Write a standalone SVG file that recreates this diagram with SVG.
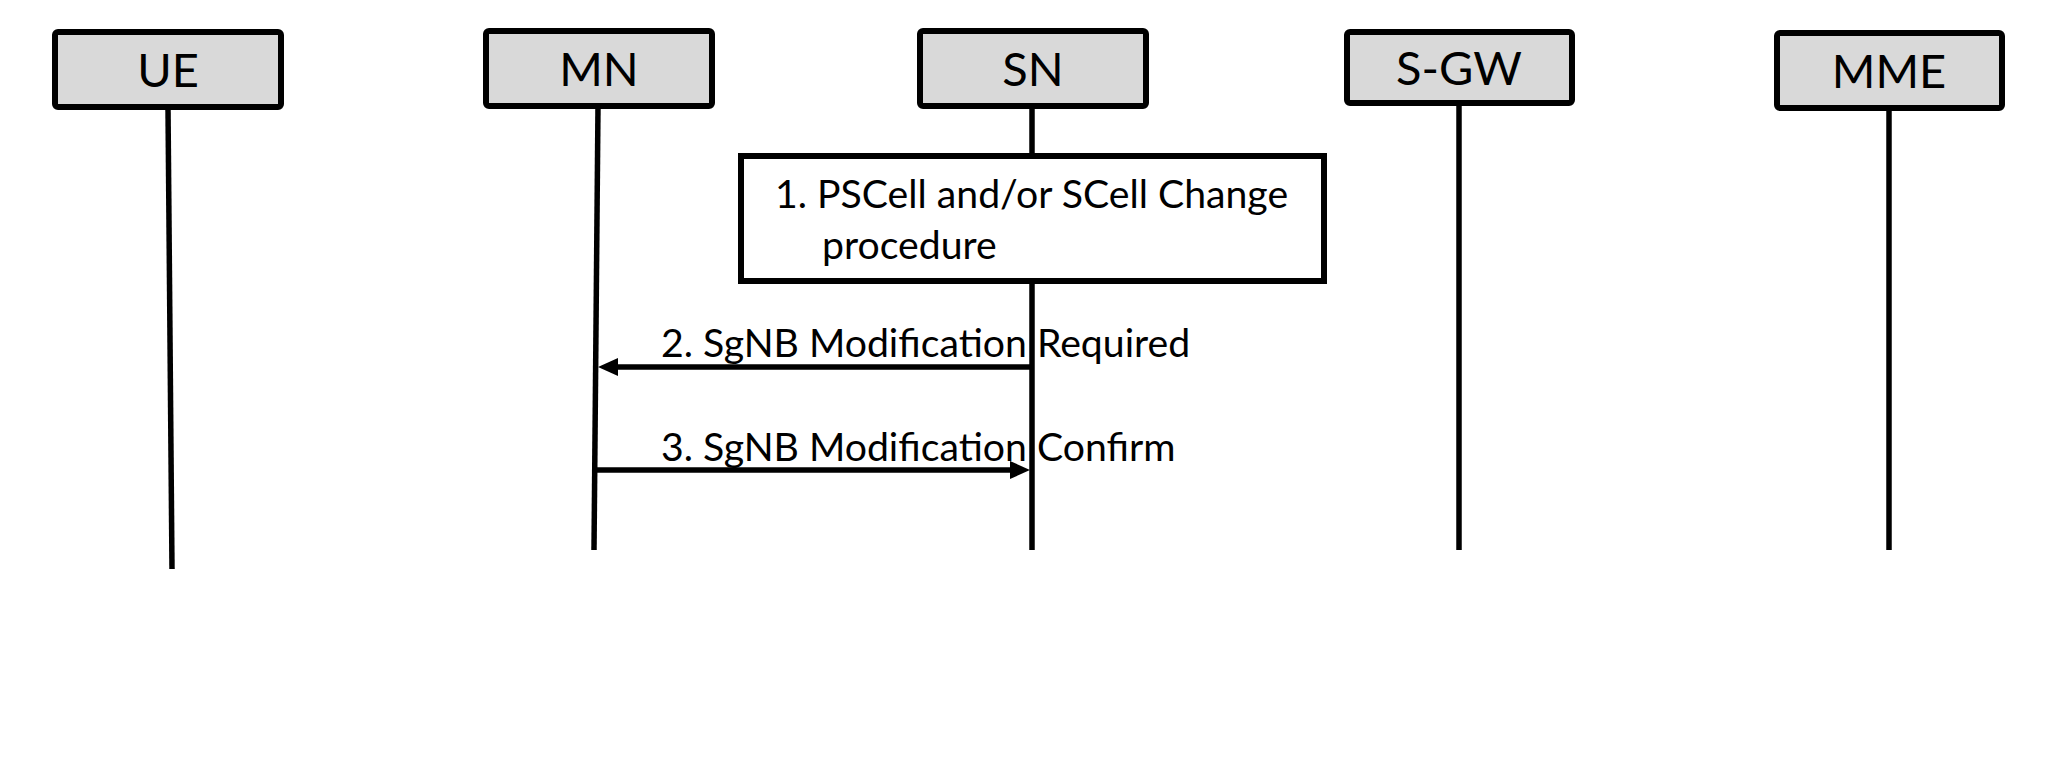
<svg xmlns="http://www.w3.org/2000/svg" width="2048" height="765" viewBox="0 0 2048 765">
<style>
.ent{fill:#d9d9d9;stroke:#000;stroke-width:6}
.lbl{font-family:Lato,"Liberation Sans",sans-serif;font-size:47px;fill:#000;text-anchor:middle}
.life{stroke:#000;stroke-width:5.5;fill:none}
.msg{font-family:Lato,"Liberation Sans",sans-serif;font-size:39.2px;fill:#000}
.arr{stroke:#000;stroke-width:5.5;fill:none}
.proc{fill:#fff;stroke:#000;stroke-width:6}
</style>
<rect width="2048" height="765" fill="#fff"/>
<g id="lifelines">
<line class="life" x1="168" y1="108" x2="172" y2="569"/>
<line class="life" x1="598" y1="106" x2="594" y2="550"/>
<line class="life" x1="1032" y1="106" x2="1032" y2="550"/>
<line class="life" x1="1459" y1="103" x2="1459" y2="550"/>
<line class="life" x1="1889" y1="108" x2="1889" y2="550"/>
</g>
<g id="UE"><rect class="ent" x="55" y="32" width="226" height="75" rx="3"/><text class="lbl" x="168" y="87">UE</text></g>
<g id="MN"><rect class="ent" x="486" y="31" width="226" height="75" rx="3"/><text class="lbl" x="599" y="86">MN</text></g>
<g id="SN"><rect class="ent" x="920" y="31" width="226" height="75" rx="3"/><text class="lbl" x="1033" y="86">SN</text></g>
<g id="SGW"><rect class="ent" x="1347" y="32" width="225" height="71" rx="3"/><text class="lbl" x="1459" y="85">S-GW</text></g>
<g id="MME"><rect class="ent" x="1777" y="33" width="225" height="75" rx="3"/><text class="lbl" x="1889" y="88">MME</text></g>
<g id="proc1"><rect class="proc" x="741" y="156" width="583" height="125"/><text class="msg" x="775" y="208">1. PSCell and/or SCell Change</text><text class="msg" x="822" y="259">procedure</text></g>
<g id="connectors">
<line class="arr" x1="1032" y1="367" x2="612" y2="367"/><path d="M598,367 L618,358 L618,376 z" fill="#000"/>
<line class="arr" x1="596" y1="470" x2="1016" y2="470"/><path d="M1030,470 L1010,461 L1010,479 z" fill="#000"/>
<text class="msg" x="661" y="357">2. SgNB Modification Required</text>
<text class="msg" x="661" y="461">3. SgNB Modification Confirm</text>
</g>
</svg>
